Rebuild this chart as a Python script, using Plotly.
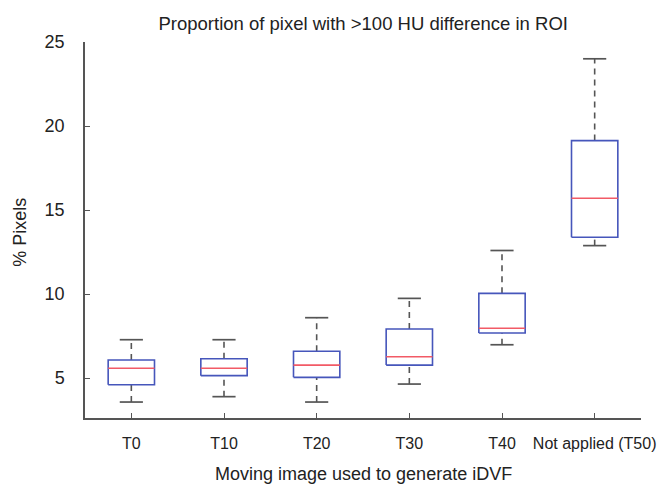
import plotly.graph_objects as go

categories = ["T0", "T10", "T20", "T30", "T40", "Not applied (T50)"]
lower_whisker = [3.57, 3.89, 3.57, 4.64, 6.98, 12.88]
q1 = [4.60, 5.14, 5.04, 5.77, 7.68, 13.38]
median = [5.58, 5.58, 5.77, 6.27, 7.96, 15.70]
q3 = [6.07, 6.15, 6.59, 7.92, 10.04, 19.13]
upper_whisker = [7.28, 7.28, 8.59, 9.74, 12.59, 24.0]
y_ticks = [5, 10, 15, 20, 25]

BOX_HALF = 0.25
CAP_HALF = 0.125
BLUE = "#4656bb"
RED = "#f25a66"
GRAY = "#555555"
TEXT = "#222222"
FONT = "Liberation Sans, Arial, sans-serif"

fig = go.Figure()
xs = list(range(1, len(categories) + 1))
x_range = [0.5, len(categories) + 0.5]

for i, x in enumerate(xs):
    fig.add_trace(go.Scatter(x=[x, x], y=[q3[i], upper_whisker[i]], mode="lines",
                             line=dict(color=GRAY, width=1.6, dash="6px,5px"),
                             hoverinfo="skip", showlegend=False))
    fig.add_trace(go.Scatter(x=[x, x], y=[lower_whisker[i], q1[i]], mode="lines",
                             line=dict(color=GRAY, width=1.6, dash="6px,5px"),
                             hoverinfo="skip", showlegend=False))
    fig.add_trace(go.Scatter(x=[x - CAP_HALF, x + CAP_HALF, None, x - CAP_HALF, x + CAP_HALF],
                             y=[upper_whisker[i], upper_whisker[i], None, lower_whisker[i], lower_whisker[i]],
                             mode="lines", line=dict(color=GRAY, width=1.7),
                             hoverinfo="skip", showlegend=False))
    fig.add_trace(go.Scatter(x=[x - BOX_HALF, x + BOX_HALF, x + BOX_HALF, x - BOX_HALF, x - BOX_HALF],
                             y=[q1[i], q1[i], q3[i], q3[i], q1[i]],
                             mode="lines", line=dict(color=BLUE, width=1.6),
                             hoverinfo="skip", showlegend=False))
    fig.add_trace(go.Scatter(x=[x - BOX_HALF, x + BOX_HALF], y=[median[i], median[i]],
                             mode="lines", line=dict(color=RED, width=1.6),
                             hoverinfo="skip", showlegend=False))

fig.update_layout(
    width=658, height=492,
    margin=dict(l=85, r=17, t=42, b=74),
    paper_bgcolor="white", plot_bgcolor="white",
    font=dict(family=FONT, size=17, color=TEXT),
    title=dict(text="Proportion of pixel with >100 HU difference in ROI",
               x=0.552, xanchor="center", y=0.952, yanchor="middle",
               font=dict(size=18.5, color=TEXT)),
    xaxis=dict(range=x_range, tickmode="array", tickvals=xs + [x_range[1]],
               ticktext=categories + [""],
               showgrid=False, zeroline=False, showline=True, linecolor=GRAY, linewidth=1.5,
               ticks="inside", ticklen=5, tickcolor=GRAY, tickwidth=1.3,
               ticklabelstandoff=10, tickfont=dict(size=16), automargin=False,
               ticklabeloverflow="allow"),
    yaxis=dict(range=[2.62, 25], tickmode="array", tickvals=y_ticks,
               showgrid=False, zeroline=False, showline=True, linecolor=GRAY, linewidth=1.5,
               ticks="inside", ticklen=5, tickcolor=GRAY, tickwidth=1.3,
               ticklabelstandoff=15, tickfont=dict(size=18), automargin=False),
    annotations=[
        dict(text="Moving image used to generate iDVF", xref="paper", yref="paper",
             x=0.5, y=-0.149, xanchor="center", yanchor="middle", showarrow=False,
             font=dict(size=18, color=TEXT)),
        dict(text="% Pixels", xref="paper", yref="paper", textangle=-90,
             x=-0.117, y=0.495, xanchor="center", yanchor="middle", showarrow=False,
             font=dict(size=18, color=TEXT)),
    ],
)

fig.write_html("out.html", config={"displayModeBar": False},
               post_script="document.body.style.margin='0';")
